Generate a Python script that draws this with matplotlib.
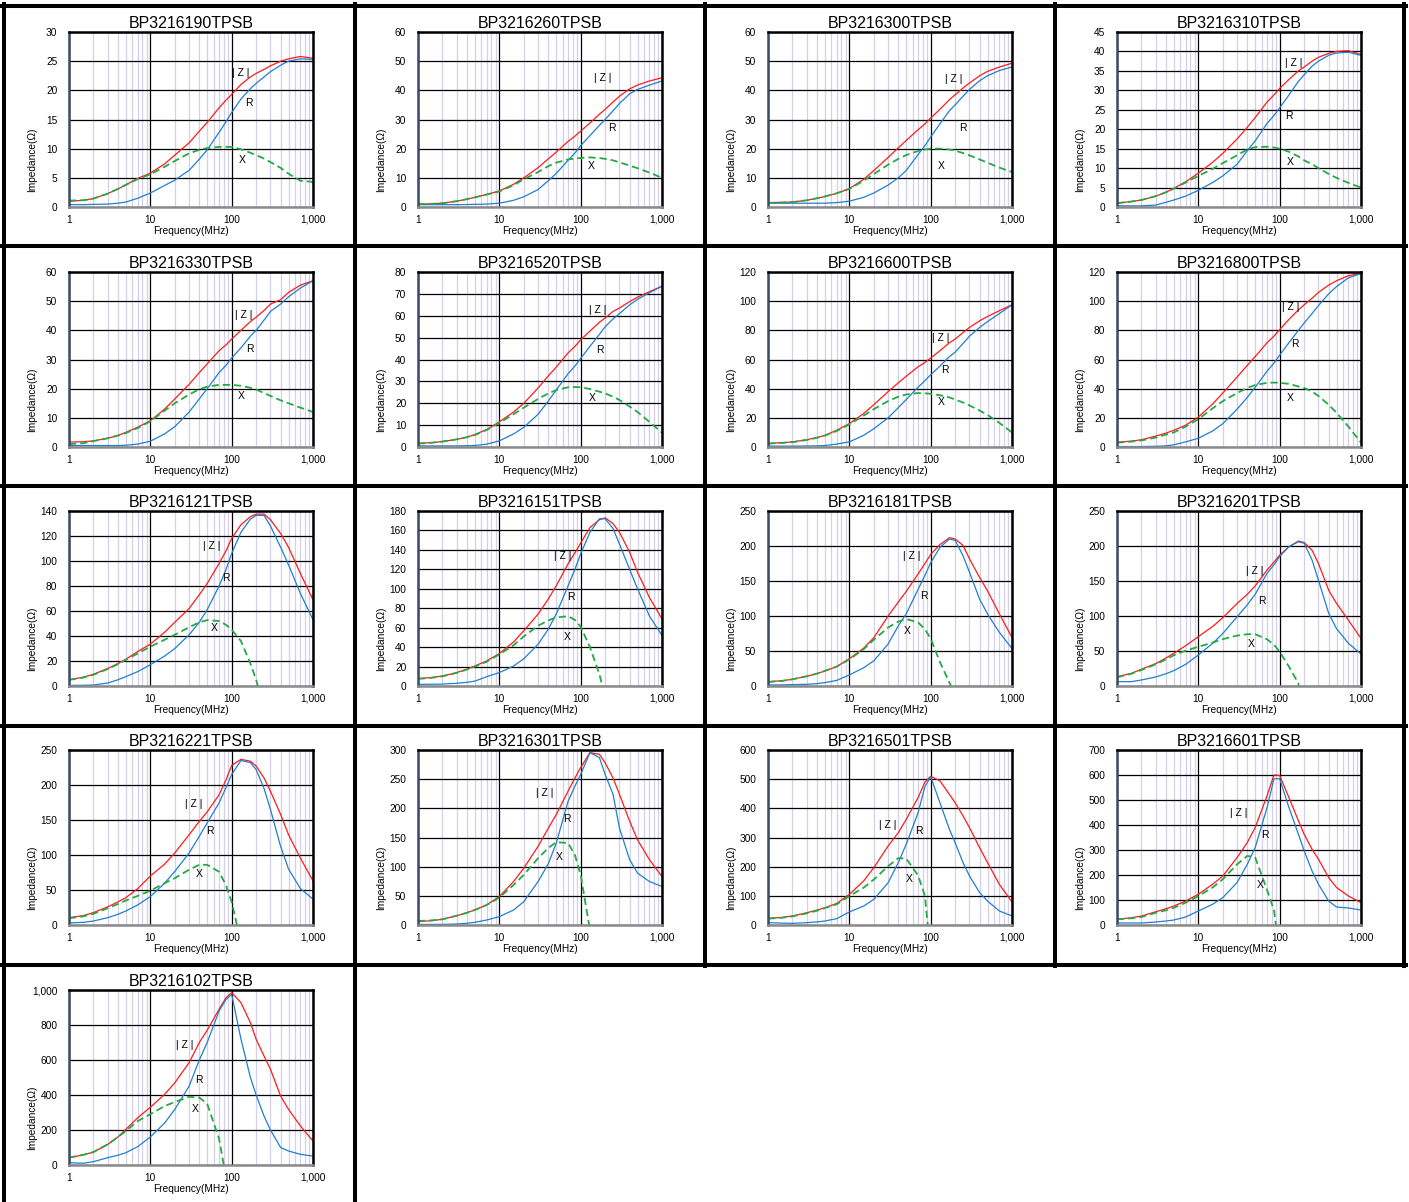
import matplotlib
matplotlib.use('Agg')
import matplotlib.pyplot as plt
from matplotlib.lines import Line2D

plt.rcParams['font.family'] = ['Liberation Sans', 'DejaVu Sans']

# frequency points (MHz)
F = [1, 1.5, 2, 3, 4, 5, 7, 10, 15, 20, 30, 40, 50, 70, 85, 100, 130, 170, 200, 250, 300, 400, 500, 700, 1000]

names = ['BP3216190TPSB', 'BP3216260TPSB', 'BP3216300TPSB', 'BP3216310TPSB',
         'BP3216330TPSB', 'BP3216520TPSB', 'BP3216600TPSB', 'BP3216800TPSB',
         'BP3216121TPSB', 'BP3216151TPSB', 'BP3216181TPSB', 'BP3216201TPSB',
         'BP3216221TPSB', 'BP3216301TPSB', 'BP3216501TPSB', 'BP3216601TPSB',
         'BP3216102TPSB']
ymax = [30, 60, 60, 45, 60, 80, 120, 120, 140, 180, 250, 250, 250, 300, 600, 700, 1000]
ystep = [5, 10, 10, 5, 10, 10, 20, 20, 20, 20, 50, 50, 50, 50, 100, 100, 200]
# frequency where X falls to zero (resonant parts)
x_zero = [None] * 8 + [210, 185, 178, 172, 116, 127, 92, 90, 80]

N = None
z190 = [1.0, 1.15, 1.45, 2.3, 3.1, 3.8, 4.9, 5.8, 7.4, 8.9, 11.0, 13.0, 14.5, 17.0, 18.3, 19.3, 21.0, 22.3, 22.9, 23.6, 24.2, 25.0, 25.4, 25.8, 25.5]
r190 = [0.4, 0.4, 0.45, 0.5, 0.65, 0.85, 1.5, 2.4, 3.7, 4.6, 6.3, 8.2, 9.8, 12.8, 14.6, 16.2, 18.5, 20.3, 21.2, 22.3, 23.2, 24.3, 25.0, 25.4, 25.3]
x190 = [1.1, 1.15, 1.45, 2.3, 3.1, 3.8, 4.8, 5.6, 6.9, 7.9, 9.2, 9.8, 10.1, 10.3, 10.3, 10.3, 9.9, 9.3, 8.9, 8.3, 7.7, 6.7, 5.7, 4.5, 4.3]

z260 = [1.0, 1.1, 1.3, 2.0, 2.7, 3.3, 4.3, 5.5, 7.8, 10.0, 13.5, 16.5, 18.8, 22.5, 24.3, 26.0, 28.8, 31.8, 33.5, 36.0, 38.0, 40.5, 41.8, 43.2, 44.3]
r260 = [0.8, 0.8, 0.8, 0.8, 0.85, 0.9, 1.0, 1.3, 2.3, 3.5, 6.0, 9.0, 11.5, 16.0, 18.5, 21.0, 24.5, 28.0, 30.0, 33.0, 35.5, 38.8, 40.3, 41.8, 43.2]
x260 = [1.0, 1.1, 1.3, 2.0, 2.7, 3.3, 4.3, 5.3, 7.5, 9.5, 12.0, 14.0, 15.2, 16.3, 16.6, 16.8, 17.0, 16.8, 16.5, 16.0, 15.3, 14.2, 13.3, 11.8, 10.0]

z300 = [1.5, 1.6, 1.7, 2.3, 3.0, 3.6, 4.7, 6.3, 9.5, 12.5, 17.0, 20.3, 22.8, 26.5, 28.5, 30.5, 33.5, 36.8, 38.5, 40.8, 42.5, 45.0, 46.5, 48.0, 49.3]
r300 = [1.3, 1.3, 1.3, 1.3, 1.3, 1.3, 1.5, 2.0, 3.3, 4.8, 7.5, 10.0, 12.5, 18.0, 21.0, 24.0, 28.5, 33.0, 35.0, 38.0, 40.3, 43.3, 45.0, 46.8, 48.0]
x300 = [1.4, 1.5, 1.7, 2.3, 3.0, 3.6, 4.7, 6.2, 9.0, 11.3, 14.5, 16.5, 17.8, 19.2, 19.7, 20.0, 20.0, 19.7, 19.3, 18.5, 17.7, 16.3, 15.2, 13.5, 12.0]

z310 = [1.0, 1.4, 1.8, 2.8, 3.8, 4.8, 6.5, 8.7, 11.5, 13.8, 17.5, 20.5, 23.0, 27.0, 28.8, 30.5, 32.8, 35.0, 36.0, 37.5, 38.5, 39.5, 40.0, 40.2, 39.2]
r310 = [0.3, 0.3, 0.3, 0.5, 1.2, 1.8, 2.8, 4.3, 6.3, 8.0, 11.0, 14.5, 17.0, 21.5, 23.5, 25.5, 28.8, 32.3, 34.0, 36.2, 37.5, 39.0, 39.6, 39.8, 39.0]
x310 = [1.0, 1.4, 1.8, 2.8, 3.8, 4.7, 6.3, 8.0, 9.8, 11.3, 13.3, 14.8, 15.4, 15.5, 15.3, 15.0, 14.2, 13.0, 12.0, 11.0, 10.0, 8.5, 7.5, 6.2, 5.0]

z330 = [1.7, 1.8, 2.1, 3.0, 4.0, 5.0, 6.8, 9.0, 13.0, 16.5, 21.5, 25.5, 28.5, 33.0, 35.0, 37.0, 40.0, 43.0, 44.5, 46.8, 49.0, 50.5, 53.0, 55.5, 57.0]
r330 = [0.5, 0.5, 0.5, 0.5, 0.5, 0.6, 1.0, 2.0, 4.5, 7.0, 12.0, 16.5, 20.0, 25.5, 28.0, 30.5, 34.0, 38.0, 40.0, 43.5, 46.5, 49.0, 51.5, 54.5, 57.0]
x330 = [1.0, 1.3, 2.0, 3.0, 3.9, 4.8, 6.5, 8.8, 12.5, 15.0, 18.0, 19.8, 20.7, 21.3, 21.3, 21.3, 21.0, 20.3, 19.7, 18.5, 17.5, 16.0, 15.0, 13.5, 12.0]

z520 = [1.7, 2.0, 2.5, 3.5, 4.5, 5.7, 8.0, 11.5, 16.0, 20.0, 27.0, 32.5, 36.5, 43.0, 46.0, 49.0, 53.0, 57.0, 59.0, 62.0, 63.5, 66.5, 68.5, 71.0, 73.5]
r520 = [0.5, 0.5, 0.5, 0.5, 0.6, 0.7, 1.3, 2.8, 6.0, 9.0, 15.0, 21.0, 26.0, 33.5, 37.0, 40.5, 46.0, 51.5, 55.0, 58.5, 61.0, 65.0, 67.5, 70.5, 73.5]
x520 = [1.5, 2.0, 2.5, 3.5, 4.5, 5.5, 7.8, 11.0, 15.0, 18.0, 22.0, 24.5, 26.0, 27.3, 27.4, 27.3, 26.5, 25.3, 24.5, 23.0, 21.5, 18.5, 16.0, 11.5, 6.5]

z600 = [2.5, 3.0, 3.5, 5.0, 6.5, 8.0, 11.5, 16.0, 23.0, 29.0, 38.0, 44.0, 48.5, 55.0, 58.0, 61.0, 66.0, 71.5, 74.0, 78.5, 82.0, 86.5, 89.5, 93.5, 97.5]
r600 = [0.6, 0.6, 0.6, 0.7, 0.8, 1.0, 2.0, 3.5, 8.0, 12.5, 20.0, 27.0, 32.5, 41.0, 45.5, 49.5, 55.5, 62.0, 65.0, 71.0, 76.0, 82.0, 86.0, 91.5, 97.5]
x600 = [2.3, 2.8, 3.3, 4.8, 6.3, 7.8, 11.0, 15.5, 21.5, 26.0, 31.5, 34.5, 36.0, 37.0, 36.8, 36.5, 35.5, 34.0, 32.5, 30.5, 28.5, 25.0, 22.0, 16.5, 10.0]

z800 = [3.3, 4.0, 5.0, 7.5, 9.5, 11.5, 15.0, 20.5, 29.5, 37.0, 48.0, 56.0, 62.0, 71.5, 76.0, 80.5, 87.5, 94.0, 97.5, 102.0, 106.0, 111.0, 114.0, 117.5, 119.0]
r800 = [0.3, 0.3, 0.3, 0.5, 0.8, 1.5, 3.5, 6.0, 11.0, 16.0, 26.0, 34.0, 41.0, 52.0, 57.5, 63.0, 71.5, 80.0, 85.0, 91.5, 97.0, 105.0, 110.0, 116.0, 119.0]
x800 = [3.0, 3.7, 4.5, 6.5, 8.5, 10.0, 14.0, 19.0, 26.5, 31.5, 37.0, 40.5, 42.5, 44.0, 44.2, 44.0, 43.3, 41.5, 40.5, 38.0, 35.0, 29.0, 23.5, 14.0, 3.0]

z121 = [5.1, 7.0, 9.4, 14.0, 18.0, 21.4, 27.6, 33.5, 43.0, 51.0, 62.0, 73.0, 82.0, 98.0, 108.0, 118.0, 129.0, 135.5, 137.5, 137.5, 133.0, 122.0, 111.0, 90.0, 69.0]
r121 = [0.5, 0.6, 0.8, 2.4, 5.0, 7.5, 11.5, 17.0, 24.0, 30.0, 41.0, 51.0, 61.0, 80.0, 93.0, 106.0, 123.0, 133.5, 136.5, 136.5, 128.0, 111.0, 97.0, 74.0, 53.0]
x121 = [4.8, 6.8, 9.0, 13.6, 17.5, 21.0, 26.0, 31.5, 37.0, 41.0, 47.0, 51.0, 52.7, 52.0, 49.0, 45.0, 36.0, 18.0, 5.0, N, N, N, N, N, N]

z151 = [7.6, 8.8, 10.3, 13.8, 17.3, 20.6, 25.8, 33.4, 45.4, 56.8, 74.0, 89.5, 103.0, 125.6, 137.0, 147.0, 163.0, 171.0, 173.0, 167.0, 158.0, 137.6, 117.0, 91.0, 69.0]
r151 = [1.7, 1.8, 2.0, 2.8, 3.8, 5.0, 9.6, 13.8, 20.6, 28.0, 43.0, 58.5, 74.0, 103.0, 120.0, 136.0, 158.0, 172.0, 172.0, 162.0, 146.0, 120.0, 100.0, 72.0, 52.0]
x151 = [7.3, 8.5, 10.0, 13.5, 17.0, 20.0, 25.0, 32.5, 42.0, 51.0, 62.0, 67.5, 70.5, 71.8, 68.0, 61.0, 40.0, 12.0, N, N, N, N, N, N, N]

z181 = [6.2, 7.6, 9.6, 13.9, 17.7, 21.5, 27.7, 39.0, 54.0, 69.0, 100.0, 120.0, 135.0, 160.0, 175.0, 188.0, 202.0, 211.8, 210.0, 200.8, 181.6, 155.0, 136.0, 103.0, 69.3]
r181 = [1.4, 1.6, 2.0, 2.4, 3.4, 4.8, 8.0, 15.8, 26.0, 36.0, 60.0, 86.0, 103.0, 138.0, 158.0, 176.0, 198.0, 210.0, 208.0, 186.0, 162.5, 124.0, 103.0, 76.5, 53.5]
x181 = [5.7, 7.3, 9.6, 13.9, 17.7, 21.5, 27.7, 38.0, 52.6, 66.0, 83.6, 92.0, 95.6, 91.0, 81.0, 68.0, 34.0, 5.0, N, N, N, N, N, N, N]

z201 = [13.3, 18.0, 24.0, 32.0, 40.0, 46.7, 57.6, 70.5, 85.0, 97.6, 118.0, 131.0, 143.0, 165.7, 177.0, 187.0, 199.0, 207.0, 205.0, 194.0, 175.0, 137.0, 118.0, 94.0, 68.0]
r201 = [6.2, 6.2, 8.6, 12.9, 17.5, 22.0, 31.0, 44.3, 61.0, 75.0, 99.0, 116.0, 131.0, 161.0, 173.0, 185.0, 199.0, 206.0, 204.0, 180.0, 151.0, 104.0, 82.0, 61.0, 45.7]
x201 = [12.4, 17.5, 22.9, 31.0, 38.0, 44.0, 50.5, 56.0, 62.0, 67.0, 72.0, 74.0, 74.0, 66.7, 59.0, 49.0, 27.6, 3.8, N, N, N, N, N, N, N]

z221 = [10.5, 13.4, 17.7, 26.0, 33.0, 39.0, 52.0, 70.0, 87.0, 103.0, 129.0, 148.0, 161.6, 186.0, 207.0, 228.0, 236.6, 234.0, 227.0, 210.0, 191.0, 158.0, 129.0, 95.6, 63.0]
r221 = [2.9, 3.8, 5.7, 10.5, 15.3, 20.0, 28.7, 40.6, 59.8, 76.5, 103.0, 126.7, 145.8, 174.5, 196.0, 215.0, 235.0, 232.0, 222.0, 195.0, 165.0, 112.0, 80.0, 52.0, 37.0]
x221 = [9.6, 12.4, 16.0, 24.0, 30.0, 35.0, 41.6, 49.0, 59.8, 67.0, 79.0, 86.0, 86.0, 76.0, 57.0, 33.0, N, N, N, N, N, N, N, N, N]

z301 = [5.7, 7.5, 9.8, 16.0, 21.0, 25.8, 34.4, 48.8, 74.6, 97.5, 135.0, 166.0, 189.0, 229.5, 252.0, 270.0, 295.5, 292.6, 278.0, 252.0, 224.0, 178.0, 146.0, 112.0, 83.0]
r301 = [1.0, 1.0, 1.1, 1.7, 3.0, 4.6, 8.6, 14.3, 25.8, 40.0, 74.6, 105.0, 140.0, 212.0, 238.0, 258.0, 295.5, 287.0, 258.0, 224.0, 166.0, 112.0, 89.0, 74.6, 66.0]
x301 = [6.9, 8.0, 9.8, 16.0, 21.0, 25.8, 34.4, 47.0, 68.8, 86.0, 114.7, 132.0, 142.0, 140.6, 120.0, 86.0, N, N, N, N, N, N, N, N, N]

z501 = [22.9, 26.0, 30.9, 42.0, 51.0, 59.0, 74.0, 105.0, 151.0, 196.6, 271.0, 316.6, 362.0, 436.6, 490.0, 510.0, 494.0, 448.0, 419.0, 374.0, 334.0, 265.0, 214.0, 139.0, 79.0]
r501 = [8.0, 6.5, 5.7, 8.0, 10.5, 13.7, 21.7, 44.6, 65.0, 88.0, 145.0, 213.7, 276.6, 385.0, 475.0, 508.6, 419.0, 328.0, 282.0, 214.0, 168.0, 111.0, 82.0, 48.0, 31.0]
x501 = [21.7, 25.0, 29.7, 40.0, 49.0, 58.0, 71.0, 99.0, 128.0, 156.0, 202.0, 229.0, 228.0, 170.0, 100.0, N, N, N, N, N, N, N, N, N, N]

z601 = [22.7, 29.0, 36.0, 53.0, 65.0, 76.0, 96.0, 123.0, 163.0, 196.0, 270.0, 330.0, 390.0, 517.0, 600.0, 598.0, 510.0, 417.0, 363.0, 303.0, 263.0, 190.0, 150.0, 116.0, 89.5]
r601 = [8.0, 8.0, 8.0, 12.0, 16.0, 20.0, 32.0, 56.0, 83.0, 109.5, 170.0, 243.0, 310.0, 470.0, 585.0, 585.0, 470.0, 363.0, 297.0, 216.0, 163.0, 96.0, 72.0, 68.0, 60.0]
x601 = [22.7, 27.0, 32.0, 49.0, 59.0, 69.0, 89.5, 116.0, 150.0, 183.0, 243.0, 276.5, 270.0, 140.0, 60.0, N, N, N, N, N, N, N, N, N, N]

z102 = [42.0, 58.0, 74.0, 118.0, 160.0, 204.0, 270.0, 330.0, 404.0, 470.0, 585.0, 700.0, 770.0, 890.0, 955.0, 985.0, 928.0, 813.0, 718.0, 623.0, 547.0, 394.0, 318.0, 223.0, 137.0]
r102 = [13.0, 10.0, 19.0, 42.0, 56.0, 70.0, 105.0, 160.0, 240.0, 318.0, 451.0, 600.0, 700.0, 880.0, 945.0, 975.0, 720.0, 500.0, 400.0, 280.0, 200.0, 100.0, 80.0, 61.0, 51.0]
x102 = [42.0, 58.0, 74.0, 118.0, 160.0, 194.0, 251.0, 290.0, 337.0, 360.0, 390.0, 385.0, 350.0, 150.0, N, N, N, N, N, N, N, N, N, N, N]

z_all = [z190, z260, z300, z310, z330, z520, z600, z800, z121, z151, z181, z201, z221, z301, z501, z601, z102]
r_all = [r190, r260, r300, r310, r330, r520, r600, r800, r121, r151, r181, r201, r221, r301, r501, r601, r102]
x_all = [x190, x260, x300, x310, x330, x520, x600, x800, x121, x151, x181, x201, x221, x301, x501, x601, x102]

# where the "|Z|", "R", "X" tags sit (freq, ohm)
tag_pos = [
    [(130, 23), (163, 17.8), (134, 8)],
    [(186, 44.2), (240, 27), (135, 14)],
    [(190, 44), (250, 27), (135, 14)],
    [(148, 37), (130, 23.4), (133, 11.6)],
    [(142, 45.3), (168, 33.6), (130, 17.5)],
    [(162, 62.6), (172, 44.3), (140, 22.4)],
    [(133, 74.7), (150, 52.8), (133, 30.9)],
    [(136, 96), (153, 70.6), (136, 33.6)],
    [(57.5, 112), (85, 86.4), (60.5, 46.4)],
    [(60, 133.7), (75, 91.5), (69, 50.4)],
    [(58, 185.7), (82, 128.6), (52, 78.6)],
    [(49, 164), (61, 121), (45, 60)],
    [(34.5, 173), (54.5, 134), (39.6, 73)],
    [(36, 226), (67, 181.7), (55, 116.6)],
    [(29.4, 343), (71, 322), (55, 157.7)],
    [(31, 448), (65, 360), (57, 160)],
    [(26.8, 686), (39.6, 486), (35.6, 320)],
]

W, H = 1409, 1202
fig = plt.figure(figsize=(W / 100, H / 100), dpi=100)

col_x = [69, 418, 768, 1117]
row_y = [32, 272, 511, 750, 990]
aw, ah = 244, 175

minor = [m * d for d in (1, 10, 100) for m in range(2, 10)]

for i, name in enumerate(names):
    row, col = divmod(i, 4)
    ax = fig.add_axes([col_x[col] / W, 1 - (row_y[row] + ah) / H, aw / W, ah / H])
    ax.set_xscale('log')
    ax.set_xlim(1, 1000)
    ax.set_ylim(0, ymax[i])
    ax.set_axisbelow(True)

    ax.set_xticks([1, 10, 100, 1000])
    ax.set_xticklabels(['1', '10', '100', '1,000'])
    ax.set_xticks(minor, minor=True)
    ax.set_xticklabels([], minor=True)
    yt = list(range(0, ymax[i] + 1, ystep[i]))
    ax.set_yticks(yt)
    ax.set_yticklabels(['{:,}'.format(v) for v in yt])

    ax.grid(which='minor', axis='x', color='#d6cfe8', lw=0.9)
    ax.grid(which='major', axis='x', color='black', lw=0.9)
    ax.grid(which='major', axis='y', color='black', lw=0.9)
    ax.tick_params(which='both', length=0)
    ax.tick_params(axis='y', labelsize=7.3, pad=8.5)
    ax.tick_params(axis='x', labelsize=7.3, pad=5.5)

    for s in ['top', 'right']:
        ax.spines[s].set_linewidth(1.8)
        ax.spines[s].set_color('black')
    ax.spines['left'].set_linewidth(1.8)
    ax.spines['left'].set_color('#3d4a63')
    ax.spines['bottom'].set_linewidth(1.8)
    ax.spines['bottom'].set_color('#8a8a8a')

    ax.plot(F, z_all[i], color='#ff1a1a', lw=0.9)
    ax.plot(F, r_all[i], color='#1f7fd0', lw=0.9)

    xf, xv = [], []
    for f, v in zip(F, x_all[i]):
        if v is None:
            break
        xf.append(f)
        xv.append(v)
    if x_zero[i]:
        xf.append(x_zero[i])
        xv.append(0)
    ax.plot(xf, xv, color='#22aa44', lw=1.3, ls=(0, (4, 2.2)))

    for txt, (tx, ty) in zip(['| Z |', 'R', 'X'], tag_pos[i]):
        ax.text(tx, ty, txt, fontsize=7.5, ha='center', va='center')

    ax.set_title(name, fontsize=11.5, pad=3)
    ax.set_xlabel('Frequency(MHz)', fontsize=7.3)
    ax.xaxis.set_label_coords(0.5, -0.108)
    ax.set_ylabel('Impedance(Ω)', fontsize=7.3)
    ax.yaxis.set_label_coords(-0.13, 0.27)

# cell borders
lw_b = 2.9
for xp in [4, 355, 705, 1055, 1404]:
    y_end = 1202 if xp in (4, 355) else 966
    fig.add_artist(Line2D([xp / W, xp / W], [1 - 3.5 / H, 1 - y_end / H],
                          color='black', lw=lw_b, transform=fig.transFigure))
for yp in [5.5, 246, 486, 725.5, 965]:
    fig.add_artist(Line2D([2 / W, 1406 / W], [1 - yp / H, 1 - yp / H],
                          color='black', lw=lw_b, transform=fig.transFigure))

fig.savefig('out.png', dpi=100, facecolor='white')
